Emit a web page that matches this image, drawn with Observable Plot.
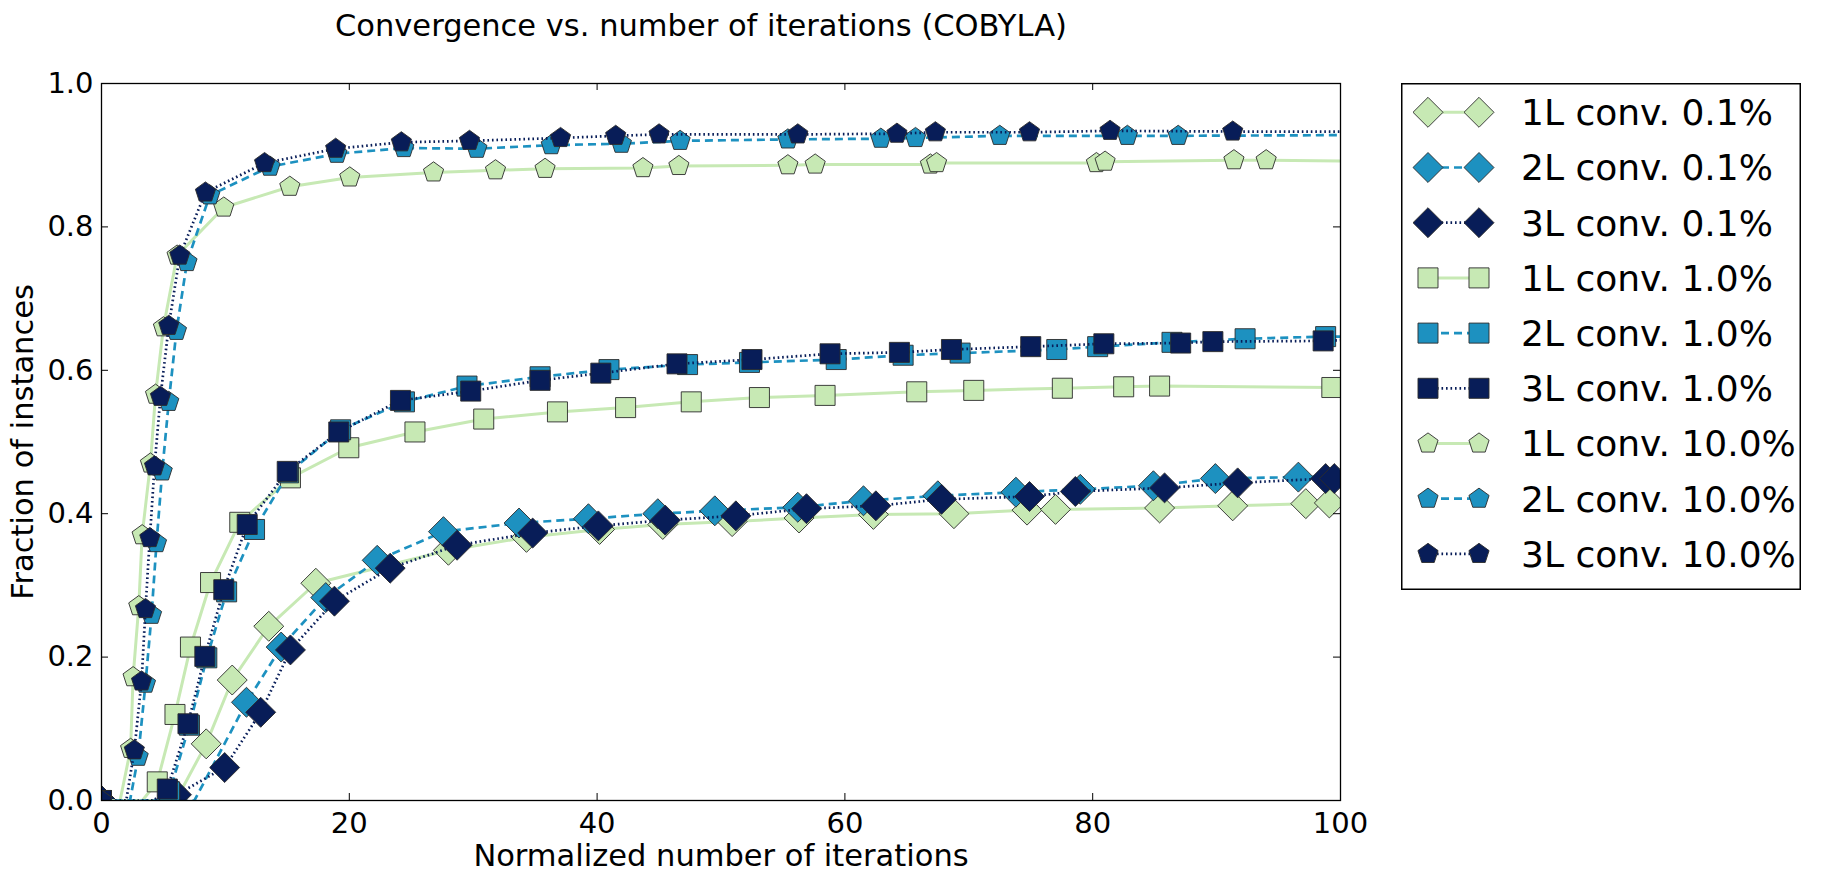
<!DOCTYPE html>
<html>
<head>
<meta charset="utf-8">
<script src="https://cdn.jsdelivr.net/npm/d3@7"></script>
<script src="https://cdn.jsdelivr.net/npm/@observablehq/plot@0.6"></script>
<style>
html, body { margin: 0; padding: 0; background: #fff; }
#root { position: relative; width: 1826px; height: 882px; overflow: hidden; background: #fff; font-family: "DejaVu Sans", sans-serif; }
#chart { position: absolute; left: 0; top: 0; }
#legend { position: absolute; left: 1401px; top: 83px; }
</style>
</head>
<body>
<div id="root"><div id="chart"></div><svg id="legend"></svg></div>
<script>
// ---------- text ----------
const titleText = "Convergence vs. number of iterations (COBYLA)";
const xLabel = "Normalized number of iterations";
const yLabel = "Fraction of instances";
const seriesLabels = ["1L conv. 0.1%", "2L conv. 0.1%", "3L conv. 0.1%",
                      "1L conv. 1.0%", "2L conv. 1.0%", "3L conv. 1.0%",
                      "1L conv. 10.0%", "2L conv. 10.0%", "3L conv. 10.0%"];
const xTicks = [0, 20, 40, 60, 80, 100];
const yTicks = [0, 0.2, 0.4, 0.6, 0.8, 1.0];

// ---------- data: marker points [x, y] ----------
const c01_1L = [[0,0],[8.45,0.079],[10.55,0.168],[13.5,0.243],[17.3,0.303],[28.0,0.349],[34.3,0.367],[40.2,0.378],[45.3,0.385],[50.9,0.389],[56.3,0.394],[62.3,0.399],[68.8,0.400],[74.7,0.405],[77.0,0.406],[85.4,0.408],[91.3,0.411],[97.2,0.414],[99.1,0.415]];
const c01_2L = [[0,0],[11.7,0.137],[14.5,0.214],[18.1,0.283],[22.25,0.335],[27.6,0.375],[33.7,0.387],[39.3,0.393],[44.9,0.400],[49.5,0.404],[56.2,0.409],[61.5,0.418],[67.5,0.425],[73.8,0.430],[79.0,0.434],[84.9,0.439],[89.9,0.449],[96.6,0.451]];
const c01_3L = [[0,0],[6.05,0.008],[9.94,0.046],[12.85,0.123],[15.25,0.210],[18.8,0.278],[23.3,0.324],[28.7,0.356],[34.8,0.373],[40.1,0.383],[45.5,0.391],[51.2,0.397],[56.9,0.407],[62.5,0.411],[67.8,0.420],[74.9,0.424],[78.6,0.431],[85.8,0.436],[91.7,0.443],[98.8,0.449],[99.5,0.449]];
const c1_1L = [[0,0],[4.5,0.026],[5.93,0.120],[7.18,0.214],[8.8,0.304],[11.16,0.388],[15.25,0.450],[19.96,0.492],[25.3,0.514],[30.85,0.532],[36.8,0.542],[42.3,0.548],[47.6,0.556],[53.1,0.562],[58.4,0.565],[65.8,0.570],[70.4,0.572],[77.55,0.575],[82.5,0.577],[85.4,0.578],[99.3,0.576]];
const c1_2L = [[0,0],[5.5,0.012],[7.1,0.105],[8.5,0.199],[10.1,0.291],[12.35,0.378],[15.1,0.457],[19.3,0.517],[24.45,0.556],[29.5,0.578],[35.4,0.591],[40.96,0.601],[47.3,0.608],[52.3,0.611],[59.3,0.615],[64.7,0.621],[69.3,0.624],[77.1,0.629],[80.4,0.633],[86.4,0.639],[92.3,0.644],[98.8,0.647]];
const c1_3L = [[0,0],[5.31,0.016],[6.98,0.107],[8.34,0.201],[9.87,0.294],[11.76,0.385],[14.99,0.459],[19.15,0.514],[24.13,0.558],[29.8,0.571],[35.4,0.586],[40.3,0.596],[46.45,0.609],[52.5,0.615],[58.8,0.623],[64.4,0.625],[68.6,0.629],[75.0,0.633],[80.9,0.637],[87.1,0.638],[89.7,0.640],[98.6,0.641]];
const c10_1L = [[0,0],[2.35,0.072],[2.55,0.172],[3.01,0.271],[3.28,0.370],[3.95,0.470],[4.36,0.566],[5.0,0.660],[6.1,0.760],[9.87,0.827],[15.2,0.856],[20.04,0.869],[26.8,0.876],[31.8,0.879],[35.8,0.881],[43.7,0.882],[46.6,0.885],[55.4,0.886],[57.6,0.887],[66.9,0.887],[67.4,0.889],[80.3,0.889],[81.0,0.891],[91.4,0.893],[94.0,0.893]];
const c10_2L = [[0,0],[2.96,0.061],[3.55,0.163],[4.04,0.259],[4.44,0.359],[4.9,0.459],[5.43,0.556],[6.05,0.655],[6.9,0.751],[8.74,0.844],[13.6,0.884],[19.0,0.902],[24.4,0.910],[30.3,0.909],[36.3,0.914],[41.96,0.916],[46.7,0.920],[55.4,0.922],[62.9,0.923],[65.7,0.924],[72.5,0.927],[82.8,0.927],[86.9,0.927]];
const c10_3L = [[0,0],[2.65,0.070],[3.23,0.166],[3.55,0.267],[3.9,0.366],[4.28,0.466],[4.76,0.563],[5.43,0.662],[6.32,0.760],[8.39,0.848],[13.16,0.889],[18.9,0.909],[24.2,0.918],[29.7,0.920],[37.05,0.924],[41.5,0.927],[45.0,0.929],[56.2,0.929],[64.2,0.930],[67.3,0.932],[74.9,0.932],[81.4,0.934],[91.3,0.933]];
// x where each curve leaves zero, and the value at x = 100
const onsetX = [6.0, 7.5, 5.0, 3.3, 4.5, 4.2, 1.5, 2.3, 2.0];
const finalY = [0.415, 0.452, 0.450, 0.577, 0.647, 0.642, 0.892, 0.928, 0.933];

const seriesPoints = [c01_1L, c01_2L, c01_3L, c1_1L, c1_2L, c1_3L, c10_1L, c10_2L, c10_3L];

// ---------- styles ----------
const layerColors = ["#c7e9b4", "#1d91c0", "#081d58"];
const layerWidth = [3, 2.7, 2.7];
const layerDash = [null, "8,5", "1.6,2.9"];
const symbolPentagon = {
  draw(ctx, size) {
    const R = Math.sqrt(size / Math.PI);
    for (let k = 0; k < 5; ++k) {
      const a = -Math.PI / 2 + k * 2 * Math.PI / 5;
      const px = R * Math.cos(a), py = R * Math.sin(a);
      if (k === 0) ctx.moveTo(px, py); else ctx.lineTo(px, py);
    }
    ctx.closePath();
  }
};
const groupSymbols = [d3.symbolDiamond2, d3.symbolSquare, symbolPentagon];
const groupR = [13.5, 11.3, 10.6];

const W = 1370, H = 882, ml = 101, mr = 30, mt = 83, mb = 82;
const frameW = W - ml - mr, frameH = H - mt - mb, tickLen = 7;

const marks = [];
seriesPoints.forEach((pts, i) => {
  const layer = i % 3, group = Math.floor(i / 3);
  const lineRows = [{x: 0, y: 0}, {x: onsetX[i], y: 0},
    ...pts.slice(1).map(([x, y]) => ({x, y})), {x: 100, y: finalY[i]}];
  const dotRows = pts.map(([x, y]) => ({x, y}));
  marks.push(Plot.line(lineRows, {x: "x", y: "y", stroke: layerColors[layer], strokeWidth: layerWidth[layer],
    strokeDasharray: layerDash[layer], strokeLinecap: "butt", clip: true}));
  marks.push(Plot.dot(dotRows, {x: "x", y: "y", symbol: groupSymbols[group], r: groupR[group],
    fill: layerColors[layer], fillOpacity: 1, stroke: "#2b2b2b", strokeWidth: 0.9, clip: true}));
});

const chart = Plot.plot({
  width: W, height: H,
  marginLeft: ml, marginRight: mr, marginTop: mt, marginBottom: mb,
  style: {fontFamily: "DejaVu Sans", fontSize: "29px", background: "white", color: "black"},
  x: {domain: [0, 100]},
  y: {domain: [0, 1]},
  marks: [
    ...marks,
    Plot.axisX({ticks: xTicks, tickSize: 0, tickPadding: 12, label: null, fill: "black"}),
    Plot.axisY({ticks: yTicks, tickSize: 0, tickPadding: 8, tickFormat: d3.format(".1f"), label: null, fill: "black"}),
    Plot.ruleX(xTicks, {x: d => d, insetTop: frameH - tickLen, stroke: "black", strokeWidth: 1}),
    Plot.ruleX(xTicks, {x: d => d, insetBottom: frameH - tickLen, stroke: "black", strokeWidth: 1}),
    Plot.ruleY(yTicks, {y: d => d, insetRight: frameW - tickLen, stroke: "black", strokeWidth: 1}),
    Plot.ruleY(yTicks, {y: d => d, insetLeft: frameW - tickLen, stroke: "black", strokeWidth: 1}),
    Plot.frame({stroke: "black", strokeWidth: 1.3}),
    Plot.text([titleText], {frameAnchor: "top", dy: -69, dx: -20, fontSize: 30.5, fill: "black"}),
    Plot.text([xLabel], {frameAnchor: "bottom", dy: 65, fontSize: 30.5, fill: "black"}),
    Plot.text([yLabel], {frameAnchor: "left", dx: -78, rotate: -90, textAnchor: "middle", fontSize: 30.5, fill: "black"})
  ]
});
document.getElementById("chart").appendChild(chart);

// ---------- legend ----------
const LW = 400, LH = 507;
const leg = d3.select("#legend").attr("width", LW).attr("height", LH);
leg.append("rect").attr("x", 0.75).attr("y", 0.75).attr("width", LW - 1.5).attr("height", LH - 1.5)
  .attr("fill", "white").attr("stroke", "black").attr("stroke-width", 1.5);
seriesLabels.forEach((lab, i) => {
  const layer = i % 3, group = Math.floor(i / 3);
  const y = 29.3 + i * 55.2;
  const x1 = 27, x2 = 78;
  leg.append("line").attr("x1", x1).attr("x2", x2).attr("y1", y).attr("y2", y)
    .attr("stroke", layerColors[layer]).attr("stroke-width", layerWidth[layer])
    .attr("stroke-dasharray", layerDash[layer]);
  const path = d3.symbol(groupSymbols[group], groupR[group] * groupR[group] * Math.PI)();
  [x1, x2].forEach(x => {
    leg.append("path").attr("d", path).attr("transform", `translate(${x},${y})`)
      .attr("fill", layerColors[layer]).attr("stroke", "#2b2b2b").attr("stroke-width", 0.9);
  });
  leg.append("text").attr("x", 120).attr("y", y).attr("dy", "0.36em")
    .attr("font-family", "DejaVu Sans").attr("font-size", 36).attr("fill", "black").text(lab);
});
</script>
</body>
</html>
